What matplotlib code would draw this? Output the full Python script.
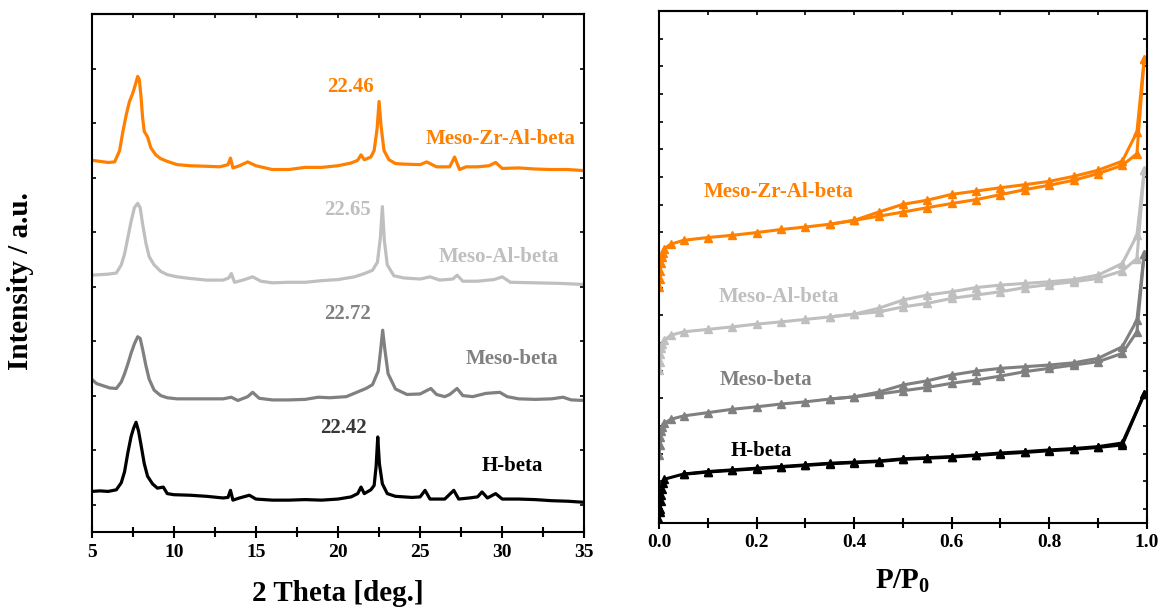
import numpy as np
import matplotlib
matplotlib.use('Agg')
import matplotlib.pyplot as plt
from matplotlib.ticker import MultipleLocator


plt.rcParams['font.family'] = ['Liberation Serif', 'DejaVu Serif']
plt.rcParams['font.weight'] = 'bold'
plt.rcParams['axes.labelweight'] = 'bold'
plt.rcParams['mathtext.fontset'] = 'custom'
plt.rcParams['mathtext.rm'] = 'Liberation Serif:bold'
plt.rcParams['mathtext.bf'] = 'Liberation Serif:bold'
plt.rcParams['mathtext.it'] = 'Liberation Serif:bold'


#XRD patterns (2 theta in deg., intensity in offset arbitrary units)

tt_zr = [5.0, 5.5, 6.0, 6.4, 6.7, 6.9, 7.1, 7.3, 7.5, 7.65, 7.8, 7.9, 8.0, 8.1, 8.2, 8.4, 8.6, 8.9,
         9.2, 9.6, 10.2, 11.0, 12.0, 12.8, 13.3, 13.45, 13.6, 14.0, 14.5, 15.0, 16.0, 17.0, 18.0,
         19.0, 20.0, 20.8, 21.2, 21.4, 21.6, 22.0, 22.2, 22.38, 22.5, 22.62, 22.8, 23.1, 23.5, 24.0,
         25.0, 25.4, 26.0, 26.8, 27.1, 27.4, 27.8, 28.5, 29.2, 29.6, 30.0, 31.0, 32.0, 33.0, 34.0, 35.0]
I_zr = [6.32, 6.30, 6.28, 6.29, 6.50, 6.85, 7.15, 7.40, 7.55, 7.70, 7.86, 7.80, 7.50, 7.10, 6.85, 6.75,
        6.55, 6.42, 6.35, 6.30, 6.24, 6.22, 6.21, 6.20, 6.24, 6.36, 6.18, 6.22, 6.29, 6.22, 6.15, 6.15,
        6.19, 6.19, 6.22, 6.27, 6.32, 6.42, 6.33, 6.38, 6.50, 6.90, 7.40, 6.95, 6.50, 6.33, 6.26, 6.25,
        6.24, 6.29, 6.20, 6.20, 6.38, 6.15, 6.20, 6.20, 6.22, 6.28, 6.17, 6.18, 6.16, 6.15, 6.15, 6.13]

tt_al = [5.0, 5.5, 6.0, 6.5, 6.8, 7.0, 7.2, 7.4, 7.6, 7.8, 7.95, 8.1, 8.3, 8.5, 8.8, 9.2, 9.6, 10.2,
         11.0, 12.0, 13.0, 13.35, 13.5, 13.7, 14.2, 14.8, 15.3, 16.0, 17.0, 18.0, 19.0, 20.0, 21.0,
         21.6, 22.1, 22.4, 22.58, 22.7, 22.82, 23.0, 23.4, 24.0, 25.0, 25.6, 26.2, 27.0, 27.25, 27.6,
         28.5, 29.5, 30.0, 30.5, 32.0, 33.5, 35.0]
I_al = [4.21, 4.22, 4.23, 4.25, 4.40, 4.60, 4.90, 5.20, 5.45, 5.53, 5.45, 5.15, 4.80, 4.55, 4.40, 4.28,
        4.22, 4.18, 4.15, 4.12, 4.12, 4.16, 4.24, 4.08, 4.12, 4.18, 4.10, 4.07, 4.08, 4.08, 4.11, 4.13,
        4.18, 4.24, 4.30, 4.45, 4.90, 5.47, 4.85, 4.40, 4.20, 4.16, 4.14, 4.18, 4.12, 4.14, 4.21, 4.10,
        4.10, 4.13, 4.18, 4.08, 4.07, 4.06, 4.04]

tt_meso = [5.0, 5.3, 5.7, 6.1, 6.5, 6.8, 7.0, 7.2, 7.4, 7.6, 7.8, 7.95, 8.1, 8.3, 8.5, 8.8, 9.2, 9.6,
           10.2, 11.0, 12.0, 13.0, 13.5, 13.9, 14.5, 14.8, 15.2, 16.0, 17.0, 18.0, 18.8, 19.5, 20.5,
           21.3, 21.7, 22.1, 22.45, 22.6, 22.72, 22.85, 23.05, 23.5, 24.2, 25.0, 25.65, 26.0, 26.5,
           26.8, 27.25, 27.6, 28.2, 29.0, 29.85, 30.3, 31.0, 32.0, 33.0, 33.7, 34.2, 35.0]
I_meso = [2.30, 2.22, 2.18, 2.14, 2.13, 2.25, 2.40, 2.58, 2.78, 2.95, 3.08, 3.05, 2.85, 2.55, 2.30,
          2.10, 2.00, 1.96, 1.94, 1.94, 1.94, 1.94, 1.97, 1.91, 1.98, 2.06, 1.95, 1.92, 1.92, 1.93,
          1.97, 1.96, 1.98, 2.08, 2.13, 2.20, 2.45, 2.85, 3.20, 2.85, 2.40, 2.12, 2.02, 2.03, 2.13,
          2.02, 1.98, 2.02, 2.13, 2.00, 1.98, 2.04, 2.06, 1.98, 1.94, 1.93, 1.94, 1.97, 1.92, 1.91]

tt_h = [5.0, 5.5, 6.0, 6.5, 6.8, 7.0, 7.2, 7.4, 7.55, 7.7, 7.85, 8.0, 8.2, 8.4, 8.7, 9.0, 9.36, 9.6,
        10.0, 11.0, 12.0, 13.0, 13.3, 13.45, 13.6, 14.0, 14.6, 15.0, 16.0, 17.0, 18.0, 19.0, 20.0,
        20.8, 21.2, 21.4, 21.6, 22.0, 22.2, 22.32, 22.42, 22.52, 22.7, 23.0, 23.5, 24.5, 25.0, 25.3,
        25.6, 26.5, 27.05, 27.35, 28.0, 28.5, 28.77, 29.1, 29.6, 30.0, 31.0, 32.0, 33.0, 34.0, 35.0]
I_h = [0.24, 0.25, 0.24, 0.27, 0.40, 0.60, 0.95, 1.25, 1.40, 1.51, 1.35, 1.10, 0.75, 0.52, 0.38, 0.30,
       0.32, 0.20, 0.18, 0.17, 0.15, 0.12, 0.13, 0.26, 0.08, 0.12, 0.17, 0.10, 0.08, 0.08, 0.09, 0.08,
       0.10, 0.14, 0.20, 0.32, 0.20, 0.27, 0.35, 0.70, 1.24, 0.75, 0.38, 0.20, 0.15, 0.13, 0.14, 0.26,
       0.10, 0.10, 0.26, 0.10, 0.12, 0.14, 0.23, 0.12, 0.20, 0.10, 0.10, 0.09, 0.07, 0.06, 0.04]


#N2 isotherms (P/P0 and offset adsorbed volume, arbitrary units)

P_mid = [0.05, 0.1, 0.15, 0.2, 0.25, 0.3, 0.35, 0.4, 0.45, 0.5, 0.55, 0.6, 0.65, 0.7, 0.75, 0.8,
         0.85, 0.9, 0.95]

P_zr_ads = [0.0, 0.001, 0.002, 0.003, 0.005, 0.007, 0.01, 0.024] + P_mid + [0.98, 0.995]
V_zr_ads = [8.03, 8.3, 8.6, 8.9, 9.1, 9.25, 9.41, 9.57, 9.71, 9.81, 9.89, 9.99, 10.1, 10.19, 10.29,
            10.43, 10.58, 10.73, 10.89, 11.04, 11.18, 11.36, 11.54, 11.70, 11.88, 12.12, 12.42,
            12.84, 16.27]
P_zr_des = [0.995, 0.98, 0.95, 0.9, 0.85, 0.8, 0.75, 0.7, 0.65, 0.6, 0.55, 0.5, 0.45, 0.4, 0.35]
V_zr_des = [16.27, 13.62, 12.57, 12.24, 12.02, 11.84, 11.72, 11.61, 11.49, 11.37, 11.16, 11.01,
            10.73, 10.43, 10.29]

P_al_ads = [0.0, 0.001, 0.002, 0.004, 0.006, 0.01, 0.024] + P_mid + [0.98, 0.995]
V_al_ads = [5.02, 5.3, 5.6, 5.8, 5.95, 6.1, 6.28, 6.40, 6.49, 6.58, 6.68, 6.76, 6.85, 6.94, 7.04,
            7.12, 7.30, 7.43, 7.61, 7.73, 7.85, 8.00, 8.11, 8.21, 8.33, 8.60, 9.05, 12.24]
P_al_des = [0.995, 0.98, 0.95, 0.9, 0.85, 0.8, 0.75, 0.7, 0.65, 0.6, 0.55, 0.5, 0.45, 0.4, 0.35]
V_al_des = [12.24, 9.89, 8.87, 8.45, 8.29, 8.21, 8.15, 8.09, 8.00, 7.85, 7.73, 7.55, 7.25, 7.04, 6.94]

P_meso_ads = [0.0, 0.001, 0.002, 0.004, 0.006, 0.01, 0.024] + P_mid + [0.98, 0.995]
V_meso_ads = [1.95, 2.3, 2.6, 2.8, 2.97, 3.09, 3.24, 3.36, 3.48, 3.60, 3.69, 3.79, 3.87, 3.97, 4.05,
              4.15, 4.27, 4.39, 4.54, 4.66, 4.80, 4.96, 5.08, 5.20, 5.32, 5.62, 6.40, 9.23]
P_meso_des = [0.995, 0.98, 0.95, 0.9, 0.85, 0.8, 0.75, 0.7, 0.65, 0.6, 0.55, 0.5, 0.45, 0.4, 0.35]
V_meso_des = [9.23, 6.82, 5.86, 5.44, 5.28, 5.20, 5.14, 5.08, 4.98, 4.84, 4.63, 4.48, 4.22, 4.05, 3.97]

P_h_ads = [0.0, 0.001, 0.002, 0.003, 0.004, 0.006, 0.008, 0.01] + P_mid + [0.995]
V_h_ads = [-0.40, 0.0, -0.1, 0.3, 0.5, 0.7, 0.95, 1.07, 1.26, 1.35, 1.41, 1.47, 1.53, 1.59, 1.65,
           1.69, 1.73, 1.81, 1.85, 1.89, 1.95, 2.02, 2.07, 2.13, 2.18, 2.25, 2.38, 4.15]
P_h_des = [0.995] + P_mid[::-1]
V_h_des = [4.15, 2.31, 2.22, 2.15, 2.10, 2.04, 1.99, 1.93, 1.87, 1.83, 1.79, 1.71, 1.67, 1.63, 1.57,
           1.51, 1.45, 1.39, 1.33, 1.25]


orange = '#ff8000'
light = '#bfbfbf'
grey = '#808080'


fig = plt.figure(figsize = (11.58, 6.07), dpi = 100)

ax1 = fig.add_axes([0.0792, 0.124, 0.4254, 0.8524])
ax2 = fig.add_axes([0.5693, 0.1389, 0.4209, 0.8430])


#Left panel: XRD

ax1.plot(tt_h, I_h, color = 'black', lw = 2.3)
ax1.plot(tt_meso, I_meso, color = grey, lw = 2.3)
ax1.plot(tt_al, I_al, color = light, lw = 2.3)
ax1.plot(tt_zr, I_zr, color = orange, lw = 2.3)

ax1.text(20.75, 7.67, '22.46', color = orange, fontsize = 15, ha = 'center', va = 'center')
ax1.text(29.9, 6.72, 'Meso-Zr-Al-beta', color = orange, fontsize = 15, ha = 'center', va = 'center')
ax1.text(20.6, 5.40, '22.65', color = light, fontsize = 15, ha = 'center', va = 'center')
ax1.text(29.8, 4.55, 'Meso-Al-beta', color = light, fontsize = 15, ha = 'center', va = 'center')
ax1.text(20.55, 3.50, '22.72', color = grey, fontsize = 15, ha = 'center', va = 'center')
ax1.text(30.6, 2.68, 'Meso-beta', color = grey, fontsize = 15, ha = 'center', va = 'center')
ax1.text(20.35, 1.40, '22.42', color = '#383838', fontsize = 15, ha = 'center', va = 'center')
ax1.text(30.6, 0.70, 'H-beta', color = 'black', fontsize = 15, ha = 'center', va = 'center')

ax1.set_xlim(5, 35)
ax1.set_ylim(-0.5, 9)
ax1.set_xticks(np.arange(5, 36, 5))
ax1.xaxis.set_minor_locator(MultipleLocator(2.5))
ax1.set_yticks(np.arange(0, 10, 1))
ax1.set_xlabel('2 Theta [deg.]', fontsize = 21, labelpad = 14)
ax1.set_ylabel('Intensity / a.u.', fontsize = 21, labelpad = 39)
ax1.yaxis.set_label_coords(-0.118, 0.485)


#Right panel: N2 isotherms

for P_a, V_a, P_d, V_d, c in [(P_h_ads, V_h_ads, P_h_des, V_h_des, 'black'),
                              (P_meso_ads, V_meso_ads, P_meso_des, V_meso_des, grey),
                              (P_al_ads, V_al_ads, P_al_des, V_al_des, light),
                              (P_zr_ads, V_zr_ads, P_zr_des, V_zr_des, orange)]:
    ax2.plot(P_a, V_a, color = c, lw = 2.2, marker = '^', ms = 5.5)
    ax2.plot(P_d, V_d, color = c, lw = 2.2, marker = '^', ms = 5.5)

ax2.text(0.245, 11.45, 'Meso-Zr-Al-beta', color = orange, fontsize = 15, ha = 'center', va = 'center')
ax2.text(0.245, 7.65, 'Meso-Al-beta', color = light, fontsize = 15, ha = 'center', va = 'center')
ax2.text(0.218, 4.66, 'Meso-beta', color = grey, fontsize = 15, ha = 'center', va = 'center')
ax2.text(0.21, 2.10, 'H-beta', color = 'black', fontsize = 15, ha = 'center', va = 'center')

ax2.set_xlim(0, 1.0)
ax2.set_ylim(-0.5, 18)
ax2.set_xticks(np.arange(0, 1.01, 0.2))
ax2.xaxis.set_minor_locator(MultipleLocator(0.1))
ax2.set_yticks(np.arange(0, 19, 1))
ax2.set_xlabel(r'P/P$_0$', fontsize = 21, labelpad = 12)


for ax in [ax1, ax2]:
    for s in ax.spines.values():
        s.set_linewidth(1.5)
    ax.tick_params(axis = 'x', which = 'major', direction = 'inout', length = 9, width = 1.5,
                   labelsize = 14, pad = 4, top = False)
    ax.tick_params(axis = 'x', which = 'minor', direction = 'inout', length = 7, width = 1.5, top = False)
    ax.tick_params(axis = 'y', direction = 'in', length = 3, width = 1.2, left = True, right = True,
                   labelleft = False)
    sec = ax.secondary_xaxis('top')
    sec.set_xticks(ax.get_xticks())
    sec.xaxis.set_minor_locator(ax.xaxis.get_minor_locator())
    sec.tick_params(which = 'both', direction = 'in', length = 3, width = 1.2, labeltop = False)
    sec.spines['top'].set_linewidth(1.5)

plt.savefig('out.png', dpi = 100)
